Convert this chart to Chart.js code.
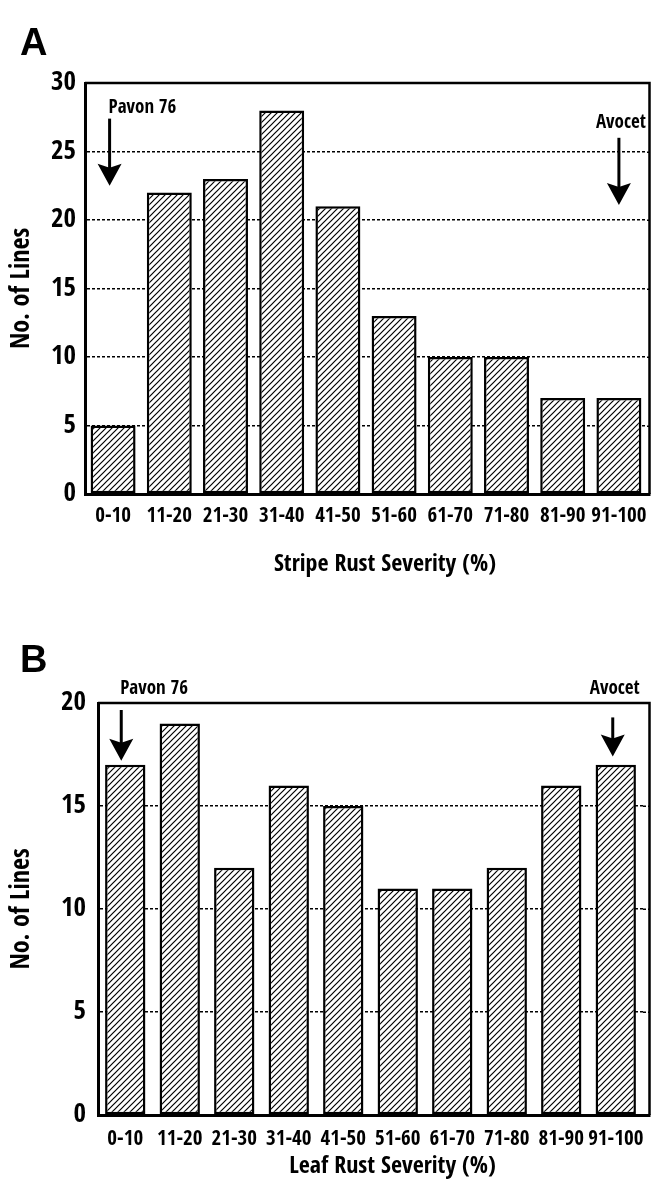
<!DOCTYPE html>
<html><head><meta charset="utf-8">
<script src="https://cdn.jsdelivr.net/npm/chart.js@4/dist/chart.umd.min.js"></script>
<style>
html,body{margin:0;padding:0;background:#fff;}
#wrap{position:relative;width:652px;height:1193px;overflow:hidden;background:#fff}
.box{position:absolute;left:0;width:652px}
</style></head><body>
<div id="wrap">
<div class="box" style="top:0;height:600px"><canvas id="cA"></canvas></div>
<div class="box" style="top:600px;height:593px"><canvas id="cB"></canvas></div>
</div>
<script>
// ---- data ----
const categories = ['0-10','11-20','21-30','31-40','41-50','51-60','61-70','71-80','81-90','91-100'];
const stripeRustLines = [5, 22, 23, 28, 21, 13, 10, 10, 7, 7];
const leafRustLines   = [17, 19, 12, 16, 15, 11, 11, 12, 16, 17];
const stripeYMax = 30;
const leafYMax = 20;
const yStep = 5;

const FF = '"Open Sans Condensed","Roboto Condensed","DejaVu Sans Condensed",sans-serif';

function hatch(canvasId){
  const s = 6, c = document.createElement('canvas'); c.width = s; c.height = s;
  const g = c.getContext('2d');
  g.fillStyle = '#fff'; g.fillRect(0,0,s,s);
  g.strokeStyle = '#000'; g.lineWidth = 1.2;
  g.beginPath();
  g.moveTo(-1, s+1); g.lineTo(s+1, -1);
  g.moveTo(-1, 1); g.lineTo(1, -1);
  g.moveTo(s-1, s+1); g.lineTo(s+1, s-1);
  g.stroke();
  return document.getElementById(canvasId).getContext('2d').createPattern(c, 'repeat');
}

const decorPlugin = {
  id: 'decor',
  beforeDatasetsDraw(chart, args, opts){
    // extend the dashed grid lines to the outer frame
    const {ctx, chartArea, scales:{y}} = chart;
    ctx.save();
    ctx.strokeStyle = '#000'; ctx.lineWidth = 1.5; ctx.setLineDash([3, 2]);
    for (const t of y.ticks){
      if (t.value === 0 || t.value === y.max) continue;
      const py = Math.round(y.getPixelForValue(t.value)) + 0.25;
      ctx.beginPath(); ctx.moveTo(chartArea.right, py); ctx.lineTo(chartArea.right + opts.frameExtra, py); ctx.stroke();
    }
    ctx.restore();
  },
  afterDatasetsDraw(chart, args, opts){
    const {ctx, chartArea, scales:{x, y}} = chart;
    const fr = chartArea.right + opts.frameExtra;
    ctx.save();
    ctx.strokeStyle = '#000'; ctx.fillStyle = '#000';
    ctx.lineWidth = 2.5;
    ctx.beginPath();
    ctx.moveTo(chartArea.left, chartArea.top);
    ctx.lineTo(fr, chartArea.top);
    ctx.lineTo(fr, chartArea.bottom);
    ctx.stroke();
    ctx.lineWidth = 3;
    ctx.beginPath(); ctx.moveTo(chartArea.right - 1, chartArea.bottom + 0.5); ctx.lineTo(fr + 1, chartArea.bottom + 0.5); ctx.stroke();
    // panel letter
    ctx.font = 'bold 38px "Liberation Sans", Arial, sans-serif';
    ctx.textAlign = 'left'; ctx.textBaseline = 'alphabetic';
    ctx.fillText(opts.panel, 20, opts.panelY);
    // x-axis title
    ctx.font = 'bold 24px ' + FF;
    ctx.textAlign = 'center'; ctx.textBaseline = 'middle';
    ctx.fillText(opts.xTitle, (chartArea.left + chartArea.right) / 2 + opts.xTitleShift, chartArea.bottom + opts.xTitleGap);
    // arrows
    for (const a of opts.arrows){
      const px = x.getPixelForValue(a.index) + a.dx;
      const y0 = y.getPixelForValue(a.from), y1 = y.getPixelForValue(a.to);
      ctx.lineWidth = 3;
      ctx.beginPath(); ctx.moveTo(px, y0); ctx.lineTo(px, y1 - 16); ctx.stroke();
      ctx.beginPath();
      ctx.moveTo(px - 12, y1 - 22); ctx.lineTo(px, y1 - 18); ctx.lineTo(px + 12, y1 - 22);
      ctx.lineTo(px, y1); ctx.closePath(); ctx.fill();
      ctx.font = 'bold 19px ' + FF;
      ctx.textAlign = a.align; ctx.textBaseline = 'middle';
      ctx.fillText(a.label, px + a.tx, y.getPixelForValue(a.textAt));
    }
    ctx.restore();
  }
};

function makeChart(id, values, yMax, barPct, cfg){
  return new Chart(document.getElementById(id), {
    type: 'bar',
    data: {
      labels: categories,
      datasets: [{
        data: values,
        backgroundColor: hatch(id),
        borderColor: '#000',
        borderWidth: 2.5,
        borderSkipped: false,
        barPercentage: barPct,
        categoryPercentage: 1.0
      }]
    },
    options: {
      responsive: true,
      maintainAspectRatio: false,
      animation: false,
      events: [],
      layout: { padding: { top: cfg.padTop, right: cfg.padRight, bottom: 0, left: 0 } },
      plugins: {
        legend: { display: false },
        tooltip: { enabled: false },
        decor: cfg.decor
      },
      scales: {
        x: {
          grid: { display: false, drawTicks: false },
          border: { display: true, color: '#000', width: 3 },
          ticks: { color: '#000', padding: cfg.xTickPad, maxRotation: 0, autoSkip: false,
                   font: { family: FF, size: 21, weight: 'bold' } },
          afterFit(s){ s.height = cfg.xHeight; s.paddingLeft = 0; s.paddingRight = 0; }
        },
        y: {
          min: 0, max: yMax,
          ticks: { stepSize: yStep, color: '#000', padding: cfg.yTickPad,
                   font: { family: FF, size: 27, weight: 'bold' } },
          grid: {
            drawTicks: false,
            lineWidth: 1.5,
            color: ctx => (ctx.tick && (ctx.tick.value === 0 || ctx.tick.value === yMax)) ? 'rgba(0,0,0,0)' : '#000'
          },
          border: { display: true, color: '#000', width: 3, dash: [3, 2] },
          title: { display: true, text: 'No. of Lines', color: '#000', padding: { top: 7, bottom: 0 },
                   font: { family: FF, size: 26, weight: 'bold' } },
          afterFit(s){ s.width = cfg.yWidth; s.paddingTop = 0; s.paddingBottom = 0; }
        }
      }
    },
    plugins: [decorPlugin]
  });
}

makeChart('cA', stripeRustLines, stripeYMax, 0.8, {
  padTop: 83, padRight: 5, xHeight: 106, yWidth: 85, xTickPad: 10, yTickPad: 9,
  decor: {
    panel: 'A', panelY: 55, frameExtra: 2.5,
    xTitle: 'Stripe Rust Severity (%)', xTitleShift: 19, xTitleGap: 71,
    arrows: [
      { label: 'Pavon 76', index: 0, dx: -3.5, from: 27.4, to: 22.5, align: 'left', tx: -1, textAt: 28.2 },
      { label: 'Avocet', index: 9, dx: 0, from: 26.0, to: 21.1, align: 'center', tx: 2, textAt: 27.1 }
    ]
  }
});

makeChart('cB', leafRustLines, leafYMax, 0.74, {
  padTop: 103, padRight: 9, xHeight: 78, yWidth: 98, xTickPad: 12, yTickPad: 12,
  decor: {
    panel: 'B', panelY: 72, frameExtra: 6.5,
    xTitle: 'Leaf Rust Severity (%)', xTitleShift: 22, xTitleGap: 52,
    arrows: [
      { label: 'Pavon 76', index: 0, dx: -4, from: 19.66, to: 17.2, align: 'left', tx: -1, textAt: 20.7 },
      { label: 'Avocet', index: 9, dx: -3, from: 19.3, to: 17.4, align: 'center', tx: 2, textAt: 20.7 }
    ]
  }
});
</script>
</body></html>
